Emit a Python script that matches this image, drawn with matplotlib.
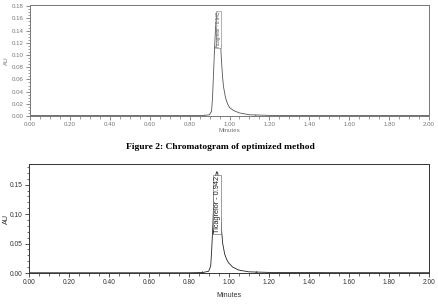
import matplotlib
matplotlib.use("Agg")
import matplotlib.pyplot as plt
from matplotlib.ticker import MultipleLocator, FormatStrFormatter

# ---- data ----
top_time = [0.00, 0.50, 0.80, 0.87, 0.90, 0.91, 0.915, 0.92, 0.925, 0.93, 0.935, 0.94, 0.945,
            0.95, 0.955, 0.96, 0.965, 0.97, 0.98, 0.99, 1.00, 1.02, 1.05, 1.10, 1.20, 1.50, 2.00]
top_au = [0.0007, 0.0007, 0.0007, 0.0008, 0.002, 0.008, 0.03, 0.07, 0.11, 0.145, 0.163, 0.170, 0.168,
          0.150, 0.120, 0.090, 0.065, 0.048, 0.030, 0.020, 0.014, 0.009, 0.005, 0.002, 0.001, 0.0007, 0.0007]
top_label = "Ticagrelor - 0.945"
top_label_time = 0.945
top_marks = [0.87, 1.13]

bot_time = [0.00, 0.50, 0.80, 0.87, 0.90, 0.91, 0.915, 0.92, 0.925, 0.93, 0.935, 0.94, 0.945,
            0.95, 0.955, 0.96, 0.965, 0.97, 0.98, 0.99, 1.00, 1.02, 1.05, 1.10, 1.20, 1.50, 2.00]
bot_au = [0.0004, 0.0004, 0.0004, 0.0008, 0.003, 0.012, 0.04, 0.075, 0.12, 0.15, 0.166, 0.172, 0.170,
          0.155, 0.125, 0.095, 0.070, 0.050, 0.032, 0.023, 0.017, 0.010, 0.005, 0.002, 0.001, 0.0006, 0.0005]
bot_label = "Ticagrelor - 0.942"
bot_label_time = 0.942
bot_marks = [0.865, 1.135]

caption = "Figure 2: Chromatogram of optimized method"

plt.rcParams['font.family'] = ['Liberation Sans', 'DejaVu Sans']

W, H = 438, 305
fig = plt.figure(figsize=(W / 100, H / 100), dpi=100)
fig.patch.set_facecolor("white")


def px_axes(left, top, right, bottom):
    return fig.add_axes([left / W, 1 - bottom / H, (right - left) / W, (bottom - top) / H])


def style(ax, ymax, ymajor, color, fs):
    ax.set_xlim(0, 2.0)
    ax.set_ylim(0, ymax)
    ax.xaxis.set_major_locator(MultipleLocator(0.2))
    ax.xaxis.set_minor_locator(MultipleLocator(0.05))
    ax.yaxis.set_major_locator(MultipleLocator(ymajor))
    ax.yaxis.set_minor_locator(MultipleLocator(0.01 if ymajor > 0.02 else 0.005))
    ax.xaxis.set_major_formatter(FormatStrFormatter("%.2f"))
    ax.yaxis.set_major_formatter(FormatStrFormatter("%.2f"))
    ax.tick_params(which="major", length=3, width=0.6, labelsize=fs, colors=color, pad=1.5)
    ax.tick_params(which="minor", length=1.8, width=0.5, colors=color)
    for s in ax.spines.values():
        s.set_linewidth(0.7)
        s.set_color(color)


# ---- top chromatogram ----
ax1 = px_axes(30, 5, 429, 116)
style(ax1, 0.182, 0.02, "#777777", 4.4)
ax1.plot(top_time, top_au, color="#555555", lw=0.6)
ax1.plot(top_marks, [0.0007, 0.0007], color="#888888", lw=0.5)
ax1.plot(top_marks, [0.0007, 0.0007], linestyle="none", marker="^", ms=2.5,
         mfc="none", mec="#777777", mew=0.4)
ax1.text(top_label_time, 0.112, top_label, rotation=90, ha="center", va="bottom",
         fontsize=3.3, color="#555555",
         bbox=dict(boxstyle="square,pad=0.1", fc="white", ec="#777777", lw=0.4))
ax1.set_ylabel("AU", fontsize=4.5, color="#777777")
ax1.yaxis.set_label_coords(-0.053, 0.5)
ax1.set_xlabel("Minutes", fontsize=4.5, color="#777777", labelpad=0.5)

# ---- caption ----
fig.text(220 / W, 1 - 147 / H, caption, ha="center", va="center",
         fontsize=6.8, fontweight="bold", family=["Liberation Serif", "DejaVu Serif"])

# ---- bottom chromatogram ----
ax2 = px_axes(28.7, 164, 428.7, 273)
style(ax2, 0.185, 0.05, "#333333", 4.8)
ax2.plot(bot_time, bot_au, color="#222222", lw=0.6)
ax2.plot(bot_marks, [0.0008, 0.0008], color="#444444", lw=0.5)
ax2.plot(bot_marks, [0.0008, 0.0008], linestyle="none", marker="^", ms=2.8,
         mfc="none", mec="#333333", mew=0.5)
ax2.text(bot_label_time, 0.068, bot_label, rotation=90, ha="center", va="bottom",
         fontsize=5.3, color="#222222",
         bbox=dict(boxstyle="square,pad=0.1", fc="white", ec="#555555", lw=0.4))
ax2.set_ylabel("AU", fontsize=5.2, color="#333333")
ax2.yaxis.set_label_coords(-0.048, 0.5)
ax2.set_xlabel("Minutes", fontsize=5.0, color="#333333", labelpad=4)

fig.savefig("out.png", dpi=100)
